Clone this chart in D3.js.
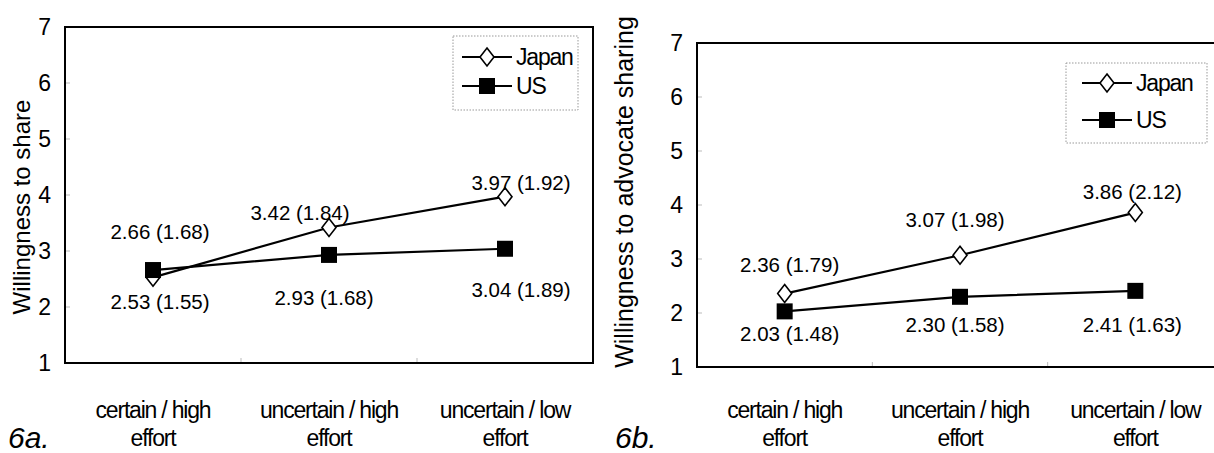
<html>
<script src="https://d3js.org/d3.v7.min.js"></script>
<style>
  body { margin: 0; background: #fff; }
  text { font-family: "Liberation Sans", Arial, sans-serif; fill: #000; }
  .narrow { font-family: "Liberation Sans Narrow", "Arial Narrow", "Liberation Sans", sans-serif; font-stretch: condensed; letter-spacing: -1.2px; }
</style>
<body>
<div id="vis"></div>
<script>
// data
const categories = [['certain / high', 'effort'], ['uncertain / high', 'effort'], ['uncertain / low', 'effort']];
const series = ['Japan', 'US'];
const shareJapan = [2.53, 3.42, 3.97];
const shareJapanSD = [1.55, 1.84, 1.92];
const shareUS = [2.66, 2.93, 3.04];
const shareUSSD = [1.68, 1.68, 1.89];
const advocateJapan = [2.36, 3.07, 3.86];
const advocateJapanSD = [1.79, 1.98, 2.12];
const advocateUS = [2.03, 2.30, 2.41];
const advocateUSSD = [1.48, 1.58, 1.63];
const yTicks = [1, 2, 3, 4, 5, 6, 7];

const svg = d3.select('#vis').append('svg').attr('width', 1214).attr('height', 453);

function panel(cfg) {
    const g = svg.append('g');
    const x = d3.scaleBand().domain(d3.range(categories.length)).range([cfg.left, cfg.right]);
    const y = d3.scaleLinear().domain([1, 7]).range([cfg.bottom, cfg.top]);
    const cx = i => x(i) + x.bandwidth() / 2;

    // faint inner ticks
    g.selectAll('.ytk').data(yTicks.slice(1, -1)).enter().append('line')
        .attr('x1', cfg.left).attr('x2', cfg.left + 5)
        .attr('y1', d => y(d)).attr('y2', d => y(d))
        .attr('stroke', '#bbb').attr('stroke-width', 1);
    g.selectAll('.xtk').data(d3.range(1, categories.length)).enter().append('line')
        .attr('x1', d => x(d)).attr('x2', d => x(d))
        .attr('y1', cfg.bottom).attr('y2', cfg.bottom - 5)
        .attr('stroke', '#bbb').attr('stroke-width', 1);

    // frame
    g.append('rect').attr('x', cfg.left).attr('y', y(7))
        .attr('width', cfg.right - cfg.left).attr('height', y(1) - y(7))
        .attr('fill', 'none').attr('stroke', '#000').attr('stroke-width', 2);

    // y tick labels
    g.selectAll('.yl').data(yTicks).enter().append('text')
        .attr('x', cfg.left - 14).attr('y', d => y(d)).attr('dy', '0.36em')
        .attr('text-anchor', 'end').style('font-size', '23px').text(d => d);

    // y title
    g.append('text')
        .attr('transform', `translate(${cfg.titleX},${cfg.titleY}) rotate(-90)`)
        .attr('text-anchor', 'middle').style('font-size', cfg.titleSize).text(cfg.title);

    // category labels
    categories.forEach((c, i) => {
        c.forEach((line, k) => {
            g.append('text').attr('class', 'narrow')
                .attr('x', cx(i)).attr('y', 410 + k * 28).attr('dy', '0.35em')
                .attr('text-anchor', 'middle').style('font-size', '23px').text(line);
        });
    });

    // panel tag
    g.append('text').attr('x', cfg.tagX).attr('y', 437).attr('dy', '0.35em')
        .style('font-size', '30px').style('font-style', 'italic').text(cfg.tag);

    const line = d3.line().x((d, i) => cx(i)).y(d => y(d));

    cfg.data.forEach((s, si) => {
        g.append('path').datum(s.values).attr('d', line)
            .attr('fill', 'none').attr('stroke', '#000').attr('stroke-width', 2.2);
        s.values.forEach((v, i) => {
            drawMarker(g, si, cx(i), y(v));
            const off = cfg.labelOffsets[si][i];
            g.append('text').attr('x', cx(i) + off[0]).attr('y', y(v) + off[1]).attr('dy', '0.35em')
                .attr('text-anchor', 'middle').style('font-size', '20.5px')
                .text(`${v.toFixed(2)} (${s.sd[i].toFixed(2)})`);
        });
    });

    // legend
    const L = cfg.legend;
    g.append('rect').attr('x', L.x).attr('y', L.y).attr('width', L.w).attr('height', L.h)
        .attr('fill', '#fff').attr('stroke', '#999').attr('stroke-width', 1).attr('stroke-dasharray', '1.5,1.5');
    series.forEach((name, si) => {
        const ly = L.y + L.row0 + si * L.rowGap;
        g.append('line').attr('x1', L.x + L.lineX0).attr('x2', L.x + L.lineX0 + 50)
            .attr('y1', ly).attr('y2', ly).attr('stroke', '#000').attr('stroke-width', 2);
        drawMarker(g, si, L.x + L.lineX0 + 25, ly);
        g.append('text').attr('class', 'narrow').attr('x', L.x + L.lineX0 + 54).attr('y', ly).attr('dy', '0.35em')
            .style('font-size', '23px').text(name);
    });
}

function drawMarker(g, si, px, py) {
    if (si === 0) {
        g.append('path').attr('d', `M${px},${py - 9}L${px + 7},${py}L${px},${py + 9}L${px - 7},${py}Z`)
            .attr('fill', '#fff').attr('stroke', '#000').attr('stroke-width', 1.6);
    } else {
        g.append('rect').attr('x', px - 8).attr('y', py - 8).attr('width', 16).attr('height', 16)
            .attr('fill', '#000');
    }
}

panel({
    left: 65, right: 593, top: 27, bottom: 363,
    title: 'Willingness to share', titleSize: '24px', titleX: 30, titleY: 207,
    tag: '6a.', tagX: 8,
    data: [{ values: shareJapan, sd: shareJapanSD }, { values: shareUS, sd: shareUSSD }],
    labelOffsets: [[[7, 25], [-29, -15], [16, -14]], [[7, -38], [-5, 43], [16, 41]]],
    legend: { x: 453, y: 36, w: 125, h: 74, row0: 21, rowGap: 29, lineX0: 9 }
});

panel({
    left: 697, right: 1223, top: 43, bottom: 367,
    title: 'Willingness to advocate sharing', titleSize: '25px', titleX: 633, titleY: 192,
    tag: '6b.', tagX: 615,
    data: [{ values: advocateJapan, sd: advocateJapanSD }, { values: advocateUS, sd: advocateUSSD }],
    labelOffsets: [[[5, -29], [-5, -35], [-3, -21]], [[5, 22], [-5, 28], [-3, 34]]],
    legend: { x: 1066, y: 63, w: 141, h: 80, row0: 20, rowGap: 37, lineX0: 16 }
});
</script>
</body>
</html>
